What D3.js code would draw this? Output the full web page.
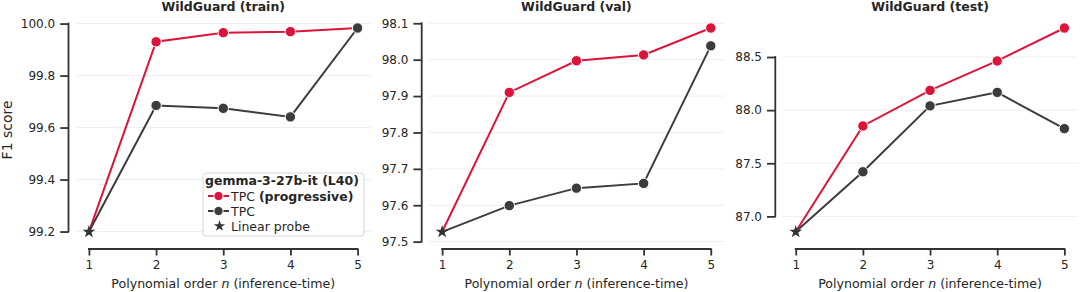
<!DOCTYPE html>
<html>
<head>
<meta charset="utf-8">
<script src="https://cdn.jsdelivr.net/npm/d3@7"></script>
<style>
  body { margin: 0; background: #fff; }
  svg { display: block; font-family: "DejaVu Sans", sans-serif; }
</style>
</head>
<body>
<div class="canvas"></div>
<script>
// polynomial orders on the x axis
const orders = [1, 2, 3, 4, 5];
const titles = ["WildGuard (train)", "WildGuard (val)", "WildGuard (test)"];

// linear probe (n = 1) per split
const linearProbe = [99.199, 97.527, 86.855];

// TPC (progressive), n = 2..5
const progTrain = [99.930, 99.965, 99.969, 99.983];
const progVal = [97.910, 97.997, 98.013, 98.087];
const progTest = [87.851, 88.186, 88.463, 88.773];

// TPC, n = 2..5
const tpcTrain = [99.685, 99.674, 99.641, 99.983];
const tpcVal = [97.599, 97.647, 97.660, 98.038];
const tpcTest = [87.420, 88.040, 88.167, 87.826];

// y tick values
const yTicksTrain = [99.2, 99.4, 99.6, 99.8, 100.0];
const yTicksVal = [97.5, 97.6, 97.7, 97.8, 97.9, 98.0, 98.1];
const yTicksTest = [87.0, 87.5, 88.0, 88.5];

const panels = [
  { title: titles[0], probe: linearProbe[0], prog: progTrain, tpc: tpcTrain, ticks: yTicksTrain },
  { title: titles[1], probe: linearProbe[1], prog: progVal, tpc: tpcVal, ticks: yTicksVal },
  { title: titles[2], probe: linearProbe[2], prog: progTest, tpc: tpcTest, ticks: yTicksTest },
];

const red = "#dc143c";
const gray = "#3c3c3c";
const ink = "#262626";

const W = 1080, H = 292;
const axLeft = [75.5, 428.7, 782.3];
const axW = 295.5;
const axTop = 17.8, axBottom = 242;
const offset = 7;

const svg = d3.select(".canvas").append("svg").attr("width", W).attr("height", H);

panels.forEach((p, i) => {
  const x0 = axLeft[i];
  const allVals = [p.probe, ...p.prog, ...p.tpc];
  const lo = d3.min(allVals), hi = d3.max(allVals);
  const pad = (hi - lo) * 0.05;

  const x = d3.scaleLinear().domain([0.8, 5.2]).range([x0, x0 + axW]);
  const y = d3.scaleLinear().domain([lo - pad, hi + pad]).range([axBottom, axTop]);

  const g = svg.append("g");

  // faint grid
  g.selectAll(".grid")
    .data(p.ticks)
    .enter()
    .append("line")
    .attr("x1", x0)
    .attr("x2", x0 + axW)
    .attr("y1", (d) => y(d))
    .attr("y2", (d) => y(d))
    .attr("stroke", "#ececec")
    .attr("stroke-width", 0.9);

  // y axis, offset and trimmed
  const yAxis = d3.axisLeft(y).tickValues(p.ticks).tickFormat(d3.format(".1f")).tickSize(8.3).tickPadding(5);
  const ya = g.append("g").attr("transform", `translate(${x0 - offset},0)`).call(yAxis);
  ya.select(".domain").remove();
  ya.append("line")
    .attr("y1", y(p.ticks[0]))
    .attr("y2", y(p.ticks[p.ticks.length - 1]))
    .attr("stroke", "#333")
    .attr("stroke-width", 1.8)
    .attr("stroke-linecap", "square");
  ya.selectAll(".tick line").attr("stroke", "#333").attr("stroke-width", 1.8);
  ya.selectAll(".tick text").attr("fill", ink).style("font-size", "12px").style("font-family", "DejaVu Sans");

  // x axis, offset and trimmed
  const xAxis = d3.axisBottom(x).tickValues(orders).tickFormat(d3.format("d")).tickSize(6.5).tickPadding(5);
  const xa = g.append("g").attr("transform", `translate(0,${axBottom + offset})`).call(xAxis);
  xa.select(".domain").remove();
  xa.append("line")
    .attr("x1", x(orders[0]))
    .attr("x2", x(orders[orders.length - 1]))
    .attr("stroke", "#333")
    .attr("stroke-width", 1.8)
    .attr("stroke-linecap", "square");
  xa.selectAll(".tick line").attr("stroke", "#333").attr("stroke-width", 1.8);
  xa.selectAll(".tick text").attr("fill", ink).style("font-size", "12px").style("font-family", "DejaVu Sans");

  // title
  g.append("text")
    .attr("x", x0 + axW / 2)
    .attr("y", 11.2)
    .attr("text-anchor", "middle")
    .attr("fill", ink)
    .style("font-size", "12.5px")
    .style("font-weight", "bold")
    .text(p.title);

  // x label
  const xl = g.append("text")
    .attr("x", x0 + axW / 2)
    .attr("y", 287.5)
    .attr("text-anchor", "middle")
    .attr("fill", ink)
    .style("font-size", "12.6px");
  xl.append("tspan").text("Polynomial order ");
  xl.append("tspan").style("font-style", "italic").text("n");
  xl.append("tspan").text(" (inference-time)");

  // series
  const line = d3.line().x((d) => x(d[0])).y((d) => y(d[1]));
  [[p.prog, red], [p.tpc, gray]].forEach(([vals, col]) => {
    const pts = [[1, p.probe], ...vals.map((v, k) => [orders[k + 1], v])];
    g.append("path")
      .datum(pts)
      .attr("d", line)
      .attr("fill", "none")
      .attr("stroke", col)
      .attr("stroke-width", 2);
    g.selectAll(null)
      .data(pts.slice(1))
      .enter()
      .append("circle")
      .attr("cx", (d) => x(d[0]))
      .attr("cy", (d) => y(d[1]))
      .attr("r", 5.2)
      .attr("fill", col)
      .attr("stroke", "#fff")
      .attr("stroke-width", 1);
  });

  // linear probe star
  g.append("path")
    .attr("d", d3.symbol(d3.symbolStar, 52)())
    .attr("transform", `translate(${x(1)},${y(p.probe)})`)
    .attr("fill", "#333");

  if (i === 0) {
    svg.append("text")
      .attr("transform", `translate(12,${(axTop + axBottom) / 2}) rotate(-90)`)
      .attr("text-anchor", "middle")
      .attr("fill", ink)
      .style("font-size", "14px")
      .text("F1 score");
  }
});

// legend inside first panel
const lg = svg.append("g");
lg.append("rect")
  .attr("x", 203)
  .attr("y", 173)
  .attr("width", 161)
  .attr("height", 63)
  .attr("rx", 3)
  .attr("fill", "#fff")
  .attr("fill-opacity", 0.85)
  .attr("stroke", "#d6d6d6")
  .attr("stroke-width", 1);
lg.append("text")
  .attr("x", 205)
  .attr("y", 184.5)
  .attr("fill", ink)
  .style("font-size", "12.5px")
  .style("font-weight", "bold")
  .text("gemma-3-27b-it (L40)");

const legendRows = [
  { col: red, label: "TPC ", bold: "(progressive)", kind: "dot" },
  { col: gray, label: "TPC", bold: "", kind: "dot" },
  { col: "#333", label: "Linear probe", bold: "", kind: "star" },
];
legendRows.forEach((r, k) => {
  const cy = 196 + k * 15;
  if (r.kind === "dot") {
    lg.append("line")
      .attr("x1", 208).attr("x2", 229)
      .attr("y1", cy).attr("y2", cy)
      .attr("stroke", r.col).attr("stroke-width", 2);
    lg.append("circle")
      .attr("cx", 218.5).attr("cy", cy).attr("r", 4.6)
      .attr("fill", r.col).attr("stroke", "#fff").attr("stroke-width", 1);
  } else {
    lg.append("path")
      .attr("d", d3.symbol(d3.symbolStar, 40)())
      .attr("transform", `translate(219.5,${cy})`)
      .attr("fill", r.col);
  }
  const t = lg.append("text")
    .attr("x", 231)
    .attr("y", cy + 4.5)
    .attr("fill", ink)
    .style("font-size", "12.5px");
  t.append("tspan").text(r.label);
  if (r.bold) t.append("tspan").style("font-weight", "bold").text(r.bold);
});
</script>
</body>
</html>
